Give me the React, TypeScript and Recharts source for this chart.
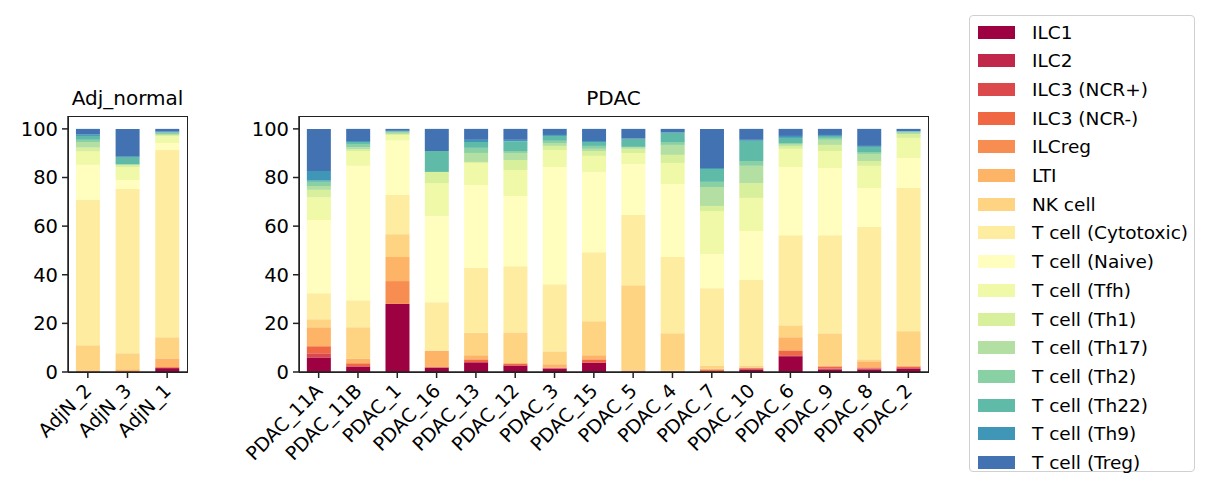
import React from 'react';
import { BarChart, Bar, XAxis, YAxis } from 'recharts';

const cellTypes = [
  'ILC1', 'ILC2', 'ILC3 (NCR+)', 'ILC3 (NCR-)', 'ILCreg', 'LTI', 'NK cell',
  'T cell (Cytotoxic)', 'T cell (Naive)', 'T cell (Tfh)', 'T cell (Th1)', 'T cell (Th17)',
  'T cell (Th2)', 'T cell (Th22)', 'T cell (Th9)', 'T cell (Treg)',
];

const colors = [
  '#9e0142', '#c0274a', '#dc494c', '#f06744', '#f88d51', '#fdb466', '#fed482', '#feeda1',
  '#fffebe', '#f0f9a7', '#d8ef9b', '#b3e0a2', '#89d0a4', '#5fbaa8', '#3f96b7', '#4272b2',
];

// cumulative top of each stacked segment, in cellTypes order
const adjSamples = ['AdjN_2', 'AdjN_3', 'AdjN_1'];
const adjTops = [
  [0, 0, 0, 0, 0, 0.7, 11, 70.7, 85.2, 90.7, 92.3, 94.6, 95.5, 97.1, 97.8, 100],
  [0, 0, 0, 0, 0, 1.1, 7.7, 75.3, 79, 84.3, 85.4, 85.4, 85.4, 88.5, 88.5, 100],
  [1.6, 1.6, 1.6, 2, 2, 5.6, 14.3, 91.3, 94.2, 97, 97.5, 97.9, 98.4, 98.6, 98.9, 100],
];

const pdacSamples = [
  'PDAC_11A', 'PDAC_11B', 'PDAC_1', 'PDAC_16', 'PDAC_13', 'PDAC_12', 'PDAC_3', 'PDAC_15',
  'PDAC_5', 'PDAC_4', 'PDAC_7', 'PDAC_10', 'PDAC_6', 'PDAC_9', 'PDAC_8', 'PDAC_2',
];
const pdacTops = [
  [6, 6, 7.7, 10.6, 10.6, 18.4, 21.7, 32.4, 62.5, 71.8, 74.9, 76.5, 78.2, 78.7, 82.7, 100],
  [2.3, 2.3, 2.3, 3.6, 3.6, 5.4, 18.4, 29.5, 84.8, 90.9, 91.6, 92.4, 93.8, 94.6, 95, 100],
  [28, 28, 28, 28, 37.4, 47.3, 56.7, 72.8, 95.2, 97.5, 97.9, 98.4, 98.8, 99.2, 99.2, 100],
  [1.9, 1.9, 1.9, 1.9, 1.9, 8.7, 8.9, 28.7, 64.1, 77.7, 82.3, 82.3, 82.3, 90.9, 90.9, 100],
  [4, 4, 4, 5.2, 5.2, 6.9, 16.1, 42.9, 76.9, 86, 86.4, 90.1, 92.2, 94.6, 95.5, 100],
  [2.7, 2.7, 2.7, 3.3, 3.3, 3.7, 16.3, 43.5, 72.4, 83.1, 87.2, 90.1, 90.9, 94.9, 95.5, 100],
  [1.4, 1.4, 1.8, 1.8, 1.8, 3.2, 8.5, 36.1, 84.3, 91.3, 93, 94.2, 95.1, 97.1, 97.5, 100],
  [3.7, 3.7, 4, 5.2, 5.2, 6.9, 20.9, 49.3, 82.3, 88.9, 90.9, 91.8, 93, 94.6, 95, 100],
  [0.2, 0.2, 0.2, 0.2, 0.2, 0.7, 35.7, 64.6, 85.6, 90.1, 91.8, 92.6, 92.6, 95.9, 96, 100],
  [0.1, 0.1, 0.1, 0.1, 0.1, 0.5, 15.9, 47.3, 77.3, 86, 89.3, 93.4, 94.6, 98.4, 98.5, 100],
  [0.3, 0.3, 0.3, 0.8, 0.8, 1.4, 2.7, 34.5, 48.5, 66.2, 68.3, 76.1, 78.2, 83.5, 83.9, 100],
  [1.1, 1.1, 1.1, 1.6, 1.6, 1.9, 2.7, 37.8, 58, 71.6, 77.7, 84.8, 86.8, 95.1, 95.5, 100],
  [6.5, 6.5, 6.9, 8.9, 8.9, 14.3, 19.2, 56.3, 84.3, 91.8, 93, 93.8, 94.2, 96.3, 97.1, 100],
  [1.1, 1.1, 1.5, 2.3, 2.3, 2.7, 15.9, 56.3, 83.9, 90.9, 93.4, 95.5, 96.3, 97.1, 97.5, 100],
  [1.1, 1.1, 1.5, 1.9, 1.9, 4.4, 5.2, 59.6, 75.7, 84.8, 86.8, 89.7, 90.5, 92.6, 93, 100],
  [1.5, 1.5, 1.5, 2.3, 2.3, 2.7, 16.8, 75.7, 88, 96.3, 97.9, 98.4, 98.8, 99, 99.1, 100],
];

const toRows = (names: string[], tops: number[][]) =>
  names.map((name, i) => {
    const row: Record<string, number | string> = { name };
    cellTypes.forEach((c, j) => {
      row[c] = +(tops[i][j] - (j > 0 ? tops[i][j - 1] : 0)).toFixed(2);
    });
    return row;
  });

const FONT = 'DejaVu Sans, sans-serif';

const RotTick = (props: any) => {
  const { x, y, payload } = props;
  return (
    <text
      x={x + 5}
      y={y + 12}
      transform={`rotate(-45, ${x + 5}, ${y + 12})`}
      textAnchor="end"
      fontSize={19}
      fontFamily={FONT}
      fill="#000"
    >
      {payload.value}
    </text>
  );
};

const Panel = ({ data, left, plotW, title }: any) => {
  const width = 60 + plotW + 4;
  return (
    <>
      <div style={{ position: 'absolute', left, top: 100, width, height: 392 }}>
        <BarChart
          width={width}
          height={392}
          data={data}
          margin={{ top: 16, right: 4, left: 0, bottom: 0 }}
          barCategoryGap="20%"
        >
          <XAxis
            dataKey="name"
            interval={0}
            tick={<RotTick />}
            height={120}
            axisLine={{ stroke: '#222', strokeWidth: 1.5 }}
            tickLine={{ stroke: '#222', strokeWidth: 1.5 }}
            tickSize={6}
          />
          <YAxis
            width={60}
            domain={[0, 105.3]}
            ticks={[0, 20, 40, 60, 80, 100]}
            tick={{ fontSize: 19.5, fontFamily: FONT, fill: '#000' }}
            axisLine={{ stroke: '#222', strokeWidth: 1.5 }}
            tickLine={{ stroke: '#222', strokeWidth: 1.5 }}
            tickSize={6}
            tickMargin={4}
          />
          {cellTypes.map((c, i) => (
            <Bar key={c} dataKey={c} stackId="a" fill={colors[i]} isAnimationActive={false} />
          ))}
        </BarChart>
      </div>
      <div
        style={{
          position: 'absolute', left: left + 60, top: 116, width: plotW + 1, height: 257,
          border: '1.5px solid #222', boxSizing: 'border-box', pointerEvents: 'none',
        }}
      />
      <div
        style={{
          position: 'absolute', left: left + 60, top: 86, width: plotW, textAlign: 'center',
          fontSize: 20, fontFamily: FONT, lineHeight: '24px',
        }}
      >
        {title}
      </div>
    </>
  );
};

export default function App() {
  return (
    <div style={{ position: 'absolute', left: 0, top: 0, width: 1209, height: 493, background: '#fff' }}>
      <Panel data={toRows(adjSamples, adjTops)} left={8} plotW={119} title="Adj_normal" />
      <Panel data={toRows(pdacSamples, pdacTops)} left={239} plotW={629} title="PDAC" />
      <div
        style={{
          position: 'absolute', left: 969, top: 15, width: 226, height: 457,
          border: '1px solid #d0d0d0', borderRadius: 4, boxSizing: 'border-box', fontFamily: FONT,
        }}
      >
        {cellTypes.map((c, i) => (
          <div key={c} style={{ position: 'absolute', left: 8, top: 5 + i * 28.7, display: 'flex', alignItems: 'center', height: 22 }}>
            <div style={{ width: 37, height: 13, background: colors[i] }} />
            <span style={{ marginLeft: 17, fontSize: 18.5, whiteSpace: 'nowrap' }}>{c}</span>
          </div>
        ))}
      </div>
    </div>
  );
}
